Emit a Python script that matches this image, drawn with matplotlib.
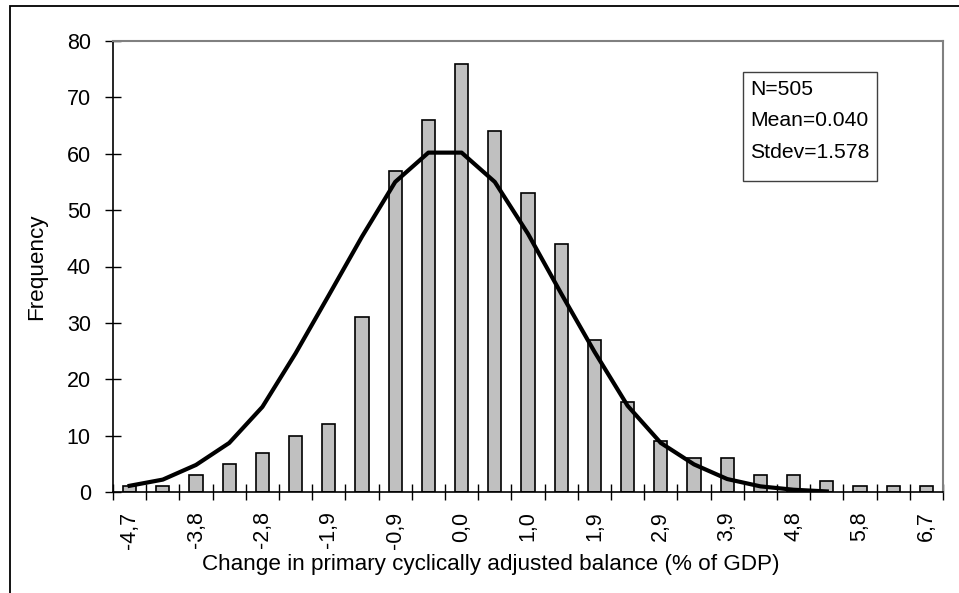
#!/usr/bin/env python3
"""Histogram of changes in the primary cyclically adjusted balance with a fitted normal curve."""

import numpy as np
import matplotlib
matplotlib.use("Agg")
import matplotlib.pyplot as plt
from matplotlib.patches import Rectangle

# bin labels shown on the axis (every other bin carries a label)
bin_labels = ["-4,7", "-3,8", "-2,8", "-1,9", "-0,9", "0,0", "1,0",
              "1,9", "2,9", "3,9", "4,8", "5,8", "6,7"]
# observed frequencies, one per bin (25 bins)
frequency = [1, 1, 3, 5, 7, 10, 12, 31, 57, 66, 76, 64, 53,
             44, 27, 16, 9, 6, 6, 3, 3, 2, 1, 1, 1]
# normal curve values at the bin centres (line stops after bin 22)
normal_fit = [1.1, 2.2, 4.8, 8.7, 15.1, 24.6, 34.9, 45.3, 55.0, 60.2, 60.2,
              55.0, 45.8, 35.2, 24.9, 15.3, 8.7, 4.9, 2.3, 1.0, 0.4, 0.1]
stats_lines = ["N=505", "Mean=0.040", "Stdev=1.578"]

W, H = 959, 593
plt.rcParams["font.family"] = ["Liberation Sans", "DejaVu Sans"]
plt.rcParams["font.size"] = 15.5

fig = plt.figure(figsize=(W / 100, H / 100), dpi=100)
ax = fig.add_axes([113 / W, 1 - 492 / H, (943 - 113) / W, (492 - 41) / H])

pos = np.arange(len(frequency))
ax.bar(pos, frequency, width=0.4, color="#C0C0C0", edgecolor="black",
       linewidth=1.2, zorder=2)
ax.plot(np.arange(len(normal_fit)), normal_fit, color="black", lw=3.0,
        solid_joinstyle="round", zorder=3)

ax.set_xlim(-0.5, len(frequency) - 0.5)
ax.set_ylim(0, 80)
ax.set_yticks(np.arange(0, 81, 10))

# tick marks on the bin boundaries, labels on every second bin centre
ax.set_xticks(np.arange(-0.5, len(frequency), 1.0))
ax.set_xticklabels([])
ax.set_xticks(pos[::2], minor=True)
ax.set_xticklabels(bin_labels, minor=True, rotation=90)
ax.tick_params(axis="x", which="major", direction="inout", length=11, width=1)
ax.tick_params(axis="x", which="minor", length=0, pad=14)
ax.tick_params(axis="y", direction="inout", length=12, width=1, pad=10)

for side in ["top", "right"]:
    ax.spines[side].set_color("#808080")
    ax.spines[side].set_linewidth(1.5)
for side in ["left", "bottom"]:
    ax.spines[side].set_color("black")
    ax.spines[side].set_linewidth(1.2)

ax.set_ylabel("Frequency", fontsize=16.2)
ax.yaxis.set_label_coords((47 - 113) / 830, 0.5)
ax.set_xlabel("Change in primary cyclically adjusted balance (% of GDP)",
              va="baseline", fontsize=16.2)
ax.xaxis.set_label_coords((491 - 113) / 830, (492 - 570) / 451)

# statistics box
fig.add_artist(Rectangle((743 / W, 1 - 181 / H), (877 - 743) / W, (181 - 72) / H,
                         transform=fig.transFigure, facecolor="white",
                         edgecolor="#404040", linewidth=1.0, zorder=5))
for i, line in enumerate(stats_lines):
    fig.text(750 / W, 1 - (95 + 31.5 * i) / H, line, va="baseline",
             ha="left", fontsize=15.2, zorder=6)

# outer chart frame
fig.add_artist(Rectangle((10 / W, -0.1), 1.2, 1 - 6 / H + 0.1,
                         transform=fig.transFigure, fill=False,
                         edgecolor="black", linewidth=1.3))

fig.savefig("out.png", dpi=100)
